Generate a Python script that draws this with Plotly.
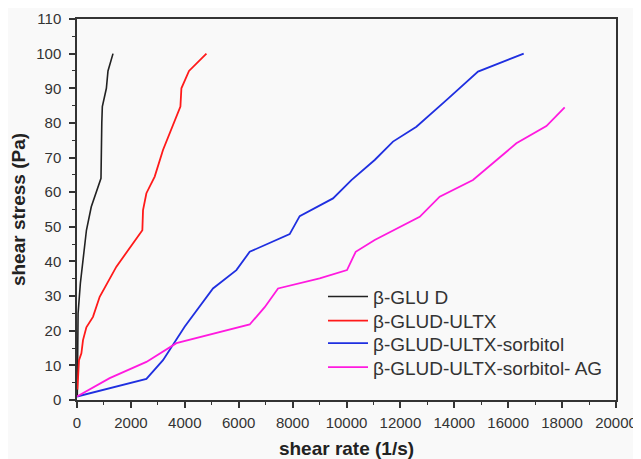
import plotly.graph_objects as go

# β-GLU D
glu_x = [10, 15, 40, 125, 225, 350, 530, 890, 920, 940, 1090, 1150, 1336]
glu_y = [1, 3, 25, 33.7, 41.4, 49, 55.8, 64, 80, 84.7, 90, 95, 100]

# β-GLUD-ULTX
ultx_x = [15, 74, 163, 223, 348, 593, 842, 1462, 2425, 2450, 2575, 2883, 3191, 3837, 3874, 4156, 4803]
ultx_y = [3, 11.5, 13.5, 17.3, 21, 24, 29.8, 38.5, 49, 54.8, 59.7, 64.5, 72.2, 84.7, 90, 95, 100]

# β-GLUD-ULTX-sorbitol
sorb_x = [0, 2575, 3191, 4000, 5046, 5914, 6408, 7892, 8263, 9499, 10182, 11046, 11725, 12594, 13707, 14880, 16575]
sorb_y = [1, 6.1, 11.5, 21.2, 32.2, 37.5, 42.8, 47.9, 53.1, 58.2, 63.5, 69.3, 74.6, 78.9, 86.6, 94.8, 100]

# β-GLUD-ULTX-sorbitol- AG
ag_x = [0, 1213, 2575, 3688, 6408, 6965, 7460, 9005, 10019, 10341, 11046, 11666, 12716, 13458, 14693, 16304, 17417, 18096]
ag_y = [1, 6.3, 11, 16.4, 21.8, 26.8, 32.2, 35.1, 37.5, 42.8, 46.2, 48.6, 52.9, 58.7, 63.5, 74.1, 79.1, 84.5]

names = ["β-GLU D", "β-GLUD-ULTX", "β-GLUD-ULTX-sorbitol", "β-GLUD-ULTX-sorbitol- AG"]
colors = ["#222222", "#ff1a1a", "#1f2fe0", "#ff1adf"]
widths = [1.6, 1.8, 1.8, 1.8]
series = [(glu_x, glu_y), (ultx_x, ultx_y), (sorb_x, sorb_y), (ag_x, ag_y)]

x_ticks = [0, 2000, 4000, 6000, 8000, 10000, 12000, 14000, 16000, 18000, 20000]
x_labels = ["0", "2000", "4000", "6000", "8000", "10000", "12000", "14000", "16000", "18000", "20000"]
y_ticks = [0, 10, 20, 30, 40, 50, 60, 70, 80, 90, 100, 110]
y_labels = ["0", "10", "20", "30", "40", "50", "60", "70", "80", "90", "100", "110"]

legend_ids = ["legend", "legend2", "legend3", "legend4"]
legend_rows = [0.2711, 0.2081, 0.1488, 0.0858]

fig = go.Figure()
for (xs, ys), n, c, w, lg in zip(series, names, colors, widths, legend_ids):
    fig.add_trace(go.Scatter(x=xs, y=ys, mode="lines", name=n, legend=lg,
                             showlegend=True, line=dict(color=c, width=w)))

font_family = "Arial, Liberation Sans, sans-serif"
axis_common = dict(showline=True, linecolor="#333333", linewidth=1.5, mirror=True,
                   ticks="outside", ticklen=6, tickwidth=1.5, tickcolor="#333333",
                   showgrid=False, zeroline=False, automargin=False,
                   tickfont=dict(size=15, color="#333333", family=font_family))

fig.update_xaxes(range=[0, 20000], tickvals=x_ticks, ticktext=x_labels,
                 ticklabelstandoff=2,
                 minor=dict(ticks="outside", ticklen=3, tickwidth=1.2, tickcolor="#333333", dtick=1000),
                 title=dict(text="<b>shear rate (1/s)</b>", font=dict(size=19, color="#222222", family=font_family), standoff=16),
                 **axis_common)
fig.update_yaxes(range=[0, 110], tickvals=y_ticks, ticktext=y_labels,
                 ticklabelstandoff=5,
                 minor=dict(ticks="outside", ticklen=3, tickwidth=1.2, tickcolor="#333333", dtick=5),
                 title=dict(text="<b>shear stress (Pa)</b>", font=dict(size=19, color="#222222", family=font_family), standoff=6),
                 **axis_common)

legend_common = dict(x=0.4564, xanchor="left", yanchor="middle",
                     bgcolor="rgba(0,0,0,0)", font=dict(size=19, color="#333333", family=font_family),
                     itemwidth=40)
layout_legends = {lg: dict(y=yy, **legend_common) for lg, yy in zip(legend_ids, legend_rows)}

fig.update_layout(
    width=633, height=451,
    margin=dict(l=69, r=25, t=11, b=59),
    paper_bgcolor="#f9f9f9", plot_bgcolor="#f9f9f9",
    font=dict(family=font_family, color="#333333"),
    showlegend=True,
    **layout_legends,
)

fig.write_html("out.html")
